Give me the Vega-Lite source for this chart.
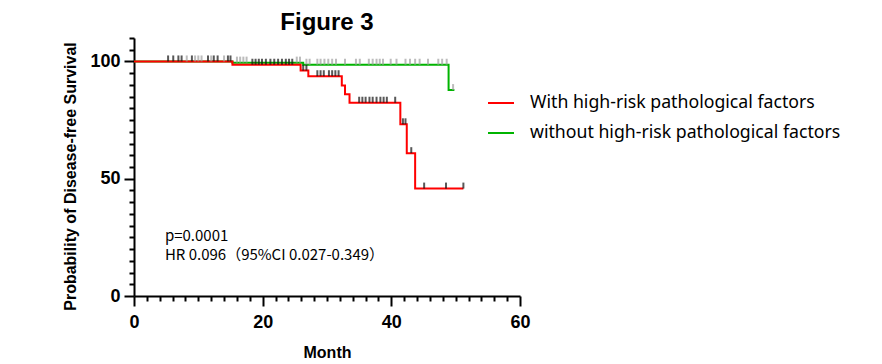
{
  "$schema": "https://vega.github.io/schema/vega-lite/v6.json",
  "autosize": {"type": "none"},
  "width": 386,
  "height": 258,
  "padding": {"left": 134, "top": 38, "right": 362, "bottom": 68},
  "background": "white",
  "title": {"text": "Figure 3", "font": "Liberation Sans", "fontSize": 24, "fontWeight": "bold", "color": "#000000", "anchor": "middle", "frame": "group", "offset": -6},
  "config": {
    "view": {"stroke": null},
    "axis": {
      "grid": false,
      "domainColor": "#000000",
      "domainWidth": 2,
      "tickColor": "#000000",
      "tickWidth": 2,
      "tickCount": 100,
      "format": "d",
      "labelFont": "Liberation Sans",
      "labelFontWeight": "bold",
      "labelFontSize": 18,
      "labelColor": "#000000",
      "labelOverlap": false,
      "labelFlush": false,
      "titleFont": "Liberation Sans",
      "titleFontWeight": "bold",
      "titleFontSize": 16,
      "titleColor": "#000000"
    }
  },
  "datasets": {
    "curves": [
      {"group": "With high-risk pathological factors", "month": 0, "survival": 100},
      {"group": "With high-risk pathological factors", "month": 15.3, "survival": 98.6},
      {"group": "With high-risk pathological factors", "month": 25.9, "survival": 96.1},
      {"group": "With high-risk pathological factors", "month": 27.1, "survival": 93.7},
      {"group": "With high-risk pathological factors", "month": 32.3, "survival": 89.8},
      {"group": "With high-risk pathological factors", "month": 32.8, "survival": 86.0},
      {"group": "With high-risk pathological factors", "month": 33.5, "survival": 82.4},
      {"group": "With high-risk pathological factors", "month": 41.4, "survival": 73.2},
      {"group": "With high-risk pathological factors", "month": 42.4, "survival": 60.9},
      {"group": "With high-risk pathological factors", "month": 43.7, "survival": 45.8},
      {"group": "With high-risk pathological factors", "month": 51.2, "survival": 45.8},
      {"group": "without high-risk pathological factors", "month": 0, "survival": 100},
      {"group": "without high-risk pathological factors", "month": 15.3, "survival": 99.5},
      {"group": "without high-risk pathological factors", "month": 26.3, "survival": 98.6},
      {"group": "without high-risk pathological factors", "month": 48.9, "survival": 87.8},
      {"group": "without high-risk pathological factors", "month": 49.8, "survival": 87.8}
    ],
    "censors": [
      {"group": "without high-risk pathological factors", "month": 8.2, "survival": 100},
      {"group": "without high-risk pathological factors", "month": 9.5, "survival": 100},
      {"group": "without high-risk pathological factors", "month": 10.0, "survival": 100},
      {"group": "without high-risk pathological factors", "month": 10.5, "survival": 100},
      {"group": "without high-risk pathological factors", "month": 12.0, "survival": 100},
      {"group": "without high-risk pathological factors", "month": 14.0, "survival": 100},
      {"group": "without high-risk pathological factors", "month": 16.0, "survival": 99.5},
      {"group": "without high-risk pathological factors", "month": 16.5, "survival": 99.5},
      {"group": "without high-risk pathological factors", "month": 17.0, "survival": 99.5},
      {"group": "without high-risk pathological factors", "month": 17.5, "survival": 99.5},
      {"group": "without high-risk pathological factors", "month": 25.3, "survival": 99.5},
      {"group": "without high-risk pathological factors", "month": 25.8, "survival": 99.5},
      {"group": "without high-risk pathological factors", "month": 26.8, "survival": 98.6},
      {"group": "without high-risk pathological factors", "month": 27.3, "survival": 98.6},
      {"group": "without high-risk pathological factors", "month": 28.5, "survival": 98.6},
      {"group": "without high-risk pathological factors", "month": 29.0, "survival": 98.6},
      {"group": "without high-risk pathological factors", "month": 29.6, "survival": 98.6},
      {"group": "without high-risk pathological factors", "month": 30.2, "survival": 98.6},
      {"group": "without high-risk pathological factors", "month": 30.8, "survival": 98.6},
      {"group": "without high-risk pathological factors", "month": 31.4, "survival": 98.6},
      {"group": "without high-risk pathological factors", "month": 32.8, "survival": 98.6},
      {"group": "without high-risk pathological factors", "month": 34.5, "survival": 98.6},
      {"group": "without high-risk pathological factors", "month": 35.1, "survival": 98.6},
      {"group": "without high-risk pathological factors", "month": 36.5, "survival": 98.6},
      {"group": "without high-risk pathological factors", "month": 37.1, "survival": 98.6},
      {"group": "without high-risk pathological factors", "month": 37.7, "survival": 98.6},
      {"group": "without high-risk pathological factors", "month": 38.2, "survival": 98.6},
      {"group": "without high-risk pathological factors", "month": 38.7, "survival": 98.6},
      {"group": "without high-risk pathological factors", "month": 39.9, "survival": 98.6},
      {"group": "without high-risk pathological factors", "month": 40.8, "survival": 98.6},
      {"group": "without high-risk pathological factors", "month": 42.2, "survival": 98.6},
      {"group": "without high-risk pathological factors", "month": 42.9, "survival": 98.6},
      {"group": "without high-risk pathological factors", "month": 43.7, "survival": 98.6},
      {"group": "without high-risk pathological factors", "month": 44.4, "survival": 98.6},
      {"group": "without high-risk pathological factors", "month": 45.7, "survival": 98.6},
      {"group": "without high-risk pathological factors", "month": 47.3, "survival": 98.6},
      {"group": "without high-risk pathological factors", "month": 47.9, "survival": 98.6},
      {"group": "without high-risk pathological factors", "month": 48.6, "survival": 98.6},
      {"group": "without high-risk pathological factors", "month": 49.6, "survival": 87.8},
      {"group": "With high-risk pathological factors", "month": 5.3, "survival": 100},
      {"group": "With high-risk pathological factors", "month": 6.1, "survival": 100},
      {"group": "With high-risk pathological factors", "month": 6.9, "survival": 100},
      {"group": "With high-risk pathological factors", "month": 7.4, "survival": 100},
      {"group": "With high-risk pathological factors", "month": 9.0, "survival": 100},
      {"group": "With high-risk pathological factors", "month": 11.5, "survival": 100},
      {"group": "With high-risk pathological factors", "month": 12.4, "survival": 100},
      {"group": "With high-risk pathological factors", "month": 13.0, "survival": 100},
      {"group": "With high-risk pathological factors", "month": 14.6, "survival": 100},
      {"group": "With high-risk pathological factors", "month": 15.0, "survival": 100},
      {"group": "With high-risk pathological factors", "month": 18.4, "survival": 98.6},
      {"group": "With high-risk pathological factors", "month": 18.9, "survival": 98.6},
      {"group": "With high-risk pathological factors", "month": 19.4, "survival": 98.6},
      {"group": "With high-risk pathological factors", "month": 19.9, "survival": 98.6},
      {"group": "With high-risk pathological factors", "month": 20.5, "survival": 98.6},
      {"group": "With high-risk pathological factors", "month": 21.2, "survival": 98.6},
      {"group": "With high-risk pathological factors", "month": 21.8, "survival": 98.6},
      {"group": "With high-risk pathological factors", "month": 22.4, "survival": 98.6},
      {"group": "With high-risk pathological factors", "month": 23.0, "survival": 98.6},
      {"group": "With high-risk pathological factors", "month": 23.6, "survival": 98.6},
      {"group": "With high-risk pathological factors", "month": 24.1, "survival": 98.6},
      {"group": "With high-risk pathological factors", "month": 24.6, "survival": 98.6},
      {"group": "With high-risk pathological factors", "month": 26.3, "survival": 96.1},
      {"group": "With high-risk pathological factors", "month": 26.8, "survival": 96.1},
      {"group": "With high-risk pathological factors", "month": 28.5, "survival": 93.7},
      {"group": "With high-risk pathological factors", "month": 29.0, "survival": 93.7},
      {"group": "With high-risk pathological factors", "month": 29.5, "survival": 93.7},
      {"group": "With high-risk pathological factors", "month": 30.3, "survival": 93.7},
      {"group": "With high-risk pathological factors", "month": 30.8, "survival": 93.7},
      {"group": "With high-risk pathological factors", "month": 31.3, "survival": 93.7},
      {"group": "With high-risk pathological factors", "month": 31.8, "survival": 93.7},
      {"group": "With high-risk pathological factors", "month": 35.0, "survival": 82.4},
      {"group": "With high-risk pathological factors", "month": 35.5, "survival": 82.4},
      {"group": "With high-risk pathological factors", "month": 36.0, "survival": 82.4},
      {"group": "With high-risk pathological factors", "month": 36.6, "survival": 82.4},
      {"group": "With high-risk pathological factors", "month": 37.1, "survival": 82.4},
      {"group": "With high-risk pathological factors", "month": 37.7, "survival": 82.4},
      {"group": "With high-risk pathological factors", "month": 38.3, "survival": 82.4},
      {"group": "With high-risk pathological factors", "month": 38.8, "survival": 82.4},
      {"group": "With high-risk pathological factors", "month": 39.3, "survival": 82.4},
      {"group": "With high-risk pathological factors", "month": 40.6, "survival": 82.4},
      {"group": "With high-risk pathological factors", "month": 41.8, "survival": 73.2},
      {"group": "With high-risk pathological factors", "month": 42.2, "survival": 73.2},
      {"group": "With high-risk pathological factors", "month": 43.1, "survival": 60.9},
      {"group": "With high-risk pathological factors", "month": 45.1, "survival": 45.8},
      {"group": "With high-risk pathological factors", "month": 48.5, "survival": 45.8},
      {"group": "With high-risk pathological factors", "month": 51.2, "survival": 45.8}
    ],
    "notes": [
      {"month": 4.8, "survival": 25.6, "text": "p=0.0001"},
      {"month": 4.8, "survival": 17.6, "text": "HR 0.096（95%CI 0.027-0.349）"}
    ]
  },
  "layer": [
    {
      "data": {"name": "curves"},
      "transform": [{"filter": "datum.group === 'without high-risk pathological factors'"}],
      "mark": {"type": "line", "interpolate": "step-after", "strokeWidth": 2},
      "encoding": {
        "x": {
          "field": "month", "type": "quantitative",
          "scale": {"domain": [0, 60], "nice": false},
          "axis": {
            "values": [0, 2, 4, 6, 8, 10, 12, 14, 16, 18, 20, 22, 24, 26, 28, 30, 32, 34, 36, 38, 40, 42, 44, 46, 48, 50, 52, 54, 56, 58, 60],
            "labelExpr": "datum.value % 20 === 0 ? datum.label : ''",
            "tickSize": {"condition": {"test": "datum.value % 20 !== 0", "value": 5}, "value": 10},
            "labelPadding": 7,
            "title": "Month",
            "titlePadding": 13
          }
        },
        "y": {
          "field": "survival", "type": "quantitative",
          "scale": {"domain": [0, 110], "nice": false},
          "axis": {
            "values": [0, 5, 10, 15, 20, 25, 30, 35, 40, 45, 50, 55, 60, 65, 70, 75, 80, 85, 90, 95, 100, 105, 110],
            "labelExpr": "datum.value % 50 === 0 ? datum.label : ''",
            "tickSize": {"condition": {"test": "datum.value % 50 !== 0", "value": 5}, "value": 10},
            "labelPadding": 4,
            "title": "Probability of Disease-free Survival",
            "titleX": -56,
            "titleY": 138
          }
        },
        "color": {
          "field": "group", "type": "nominal",
          "scale": {"domain": ["With high-risk pathological factors", "without high-risk pathological factors"], "range": ["#FF0000", "#00B400"]},
          "legend": {
            "orient": "none", "legendX": 353, "legendY": 51, "title": null, "padding": 0,
            "symbolType": "stroke", "symbolStrokeWidth": 2, "symbolSize": 676,
            "labelFont": "Noto Sans", "labelFontSize": 17.7, "labelColor": "#000000", "labelLimit": 0,
            "labelOffset": 15, "rowPadding": 7
          }
        }
      }
    },
    {
      "data": {"name": "curves"},
      "transform": [{"filter": "datum.group === 'With high-risk pathological factors'"}],
      "mark": {"type": "line", "interpolate": "step-after", "strokeWidth": 2},
      "encoding": {
        "x": {"field": "month", "type": "quantitative"},
        "y": {"field": "survival", "type": "quantitative"},
        "color": {"field": "group", "type": "nominal"}
      }
    },
    {
      "data": {"name": "censors"},
      "mark": {"type": "tick", "orient": "vertical", "size": 6, "thickness": 2, "yOffset": -3, "filled": true},
      "encoding": {
        "x": {"field": "month", "type": "quantitative"},
        "y": {"field": "survival", "type": "quantitative"},
        "fill": {
          "field": "group", "type": "nominal",
          "scale": {"domain": ["With high-risk pathological factors", "without high-risk pathological factors"], "range": ["#111111", "#A0A0A0"]},
          "legend": null
        }
      }
    },
    {
      "data": {"name": "notes"},
      "mark": {"type": "text", "align": "left", "baseline": "middle", "font": "Noto Sans CJK SC", "fontSize": 15, "color": "#000000"},
      "encoding": {
        "x": {"field": "month", "type": "quantitative"},
        "y": {"field": "survival", "type": "quantitative"},
        "text": {"field": "text"}
      }
    }
  ]
}
